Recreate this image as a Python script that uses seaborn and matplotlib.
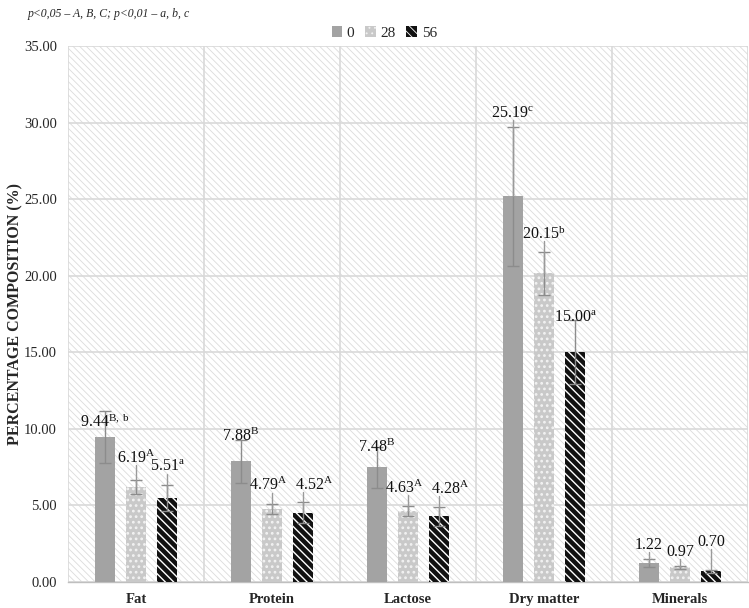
import matplotlib
matplotlib.use("Agg")
import matplotlib.pyplot as plt
import seaborn as sns
import pandas as pd
import numpy as np
from matplotlib.patches import Rectangle

# ---------------- data ----------------
components = ["Fat", "Protein", "Lactose", "Dry matter", "Minerals"]
days = ["0", "28", "56"]
values_0 = [9.44, 7.88, 7.48, 25.19, 1.22]
values_28 = [6.19, 4.79, 4.63, 20.15, 0.97]
values_56 = [5.51, 4.52, 4.28, 15.00, 0.70]
sd_0 = [1.70, 1.40, 1.35, 4.55, 0.25]
sd_28 = [0.45, 0.33, 0.33, 1.40, 0.10]
sd_56 = [0.85, 0.70, 0.62, 2.10, 0.08]
sup_0 = ["B, b", "B", "B", "c", ""]
sup_28 = ["A", "A", "A", "b", ""]
sup_56 = ["a", "A", "A", "a", ""]
yticks = [0, 5, 10, 15, 20, 25, 30, 35]

# label placement (label centre above the bar top in data units, and x shift)
label_off_0 = [1.0, 1.6, 1.3, 5.4, 1.2]
label_off_28 = [1.9, 1.5, 1.5, 2.55, 1.0]
label_off_56 = [2.0, 1.8, 1.8, 2.25, 1.9]
label_dx_0 = [0.0, 0.0, 0.0, 0.0, 0.0]
label_dx_28 = [0.0, -0.03, -0.03, 0.0, 0.0]
label_dx_56 = [0.0, 0.08, 0.08, 0.0, 0.0]

values = [values_0, values_28, values_56]
sds = [sd_0, sd_28, sd_56]
sups = [sup_0, sup_28, sup_56]
offs = [label_off_0, label_off_28, label_off_56]
dxs = [label_dx_0, label_dx_28, label_dx_56]

df = pd.DataFrame({
    "component": components * 3,
    "day": [d for d in days for _ in components],
    "value": values_0 + values_28 + values_56,
})

# ---------------- style ----------------
sns.set_theme(style="white")
plt.rcParams["font.family"] = ["Liberation Serif", "DejaVu Serif"]
plt.rcParams["mathtext.fontset"] = "custom"
plt.rcParams["mathtext.rm"] = "Liberation Serif"
plt.rcParams["mathtext.it"] = "Liberation Serif:italic"
plt.rcParams["mathtext.bf"] = "Liberation Serif:bold"

fig = plt.figure(figsize=(7.49, 6.08), dpi=100)
ax = fig.add_axes([68 / 749, 1 - 582 / 608, 680 / 749, 536 / 608])

palette = {"0": "#a3a3a3", "28": "#c9c9c9", "56": "#111111"}
sns.barplot(data=df, x="component", y="value", hue="day", order=components,
            hue_order=days, palette=palette, width=0.69, gap=0.36,
            errorbar=None, saturation=1, ax=ax, zorder=3)
bar_containers = list(ax.containers)

# background hatch
plt.rcParams["hatch.linewidth"] = 0.6
bg = Rectangle((0, 0), 1, 1, transform=ax.transAxes, facecolor="white",
               edgecolor="#dcdcdc", hatch="\\\\\\\\\\", lw=0, zorder=0.1)
ax.add_patch(bg)

# bar styles
for i, cont in enumerate(bar_containers):
    for p in cont.patches:
        p.set_linewidth(0)
        if i == 1:
            p.set_hatch("...")
            p.set_edgecolor("#f2f2f2")
            try:
                p.set_hatch_linewidth(1.2)
            except Exception:
                pass
        elif i == 2:
            p.set_hatch("\\\\\\\\")
            p.set_edgecolor("white")
            try:
                p.set_hatch_linewidth(1.0)
            except Exception:
                pass

# error bars, labels, leader lines
for i, cont in enumerate(bar_containers):
    for j, p in enumerate(cont.patches):
        xc = p.get_x() + p.get_width() / 2
        v = values[i][j]
        e = sds[i][j]
        ax.errorbar(xc, v, yerr=e, fmt="none", ecolor="#8c8c8c",
                    elinewidth=1.0, capsize=4, capthick=1.0, zorder=4)
        ly = v + offs[i][j]
        lb = ly - 0.45
        if lb > v + e:
            ax.plot([xc, xc], [v, lb], color="#9a9a9a", lw=1.0, zorder=4)
        s = sups[i][j]
        txt = f"{v:.2f}" + (r"$^{\mathrm{" + s.replace(" ", r"\ ") + "}}$" if s else "")
        ax.text(xc + dxs[i][j], ly, txt, ha="center", va="center",
                fontsize=11.5, color="#111111", zorder=5)

# axes
ax.set_xlim(-0.5, 4.5)
ax.set_ylim(0, 35)
ax.set_yticks(yticks)
ax.set_yticklabels([f"{t:.2f}" for t in yticks], fontsize=10.5)
ax.set_xticks(range(len(components)))
ax.set_xticklabels(components, fontsize=10.5, fontweight="bold")
ax.set_xticks(np.arange(-0.5, 4.6, 1), minor=True)
ax.tick_params(axis="x", which="major", length=0, pad=8)
ax.tick_params(axis="x", which="minor", length=5, color="#bfbfbf", width=1)
ax.tick_params(axis="y", length=0, pad=8)
ax.set_xlabel("")
ax.set_ylabel("PERCENTAGE COMPOSITION (%)", fontsize=11.5, fontweight="bold")
ax.yaxis.set_label_coords(-0.065, 0.5)
ax.grid(True, axis="y", color="#d9d9d9", lw=1.2, zorder=1)
ax.grid(True, axis="x", which="minor", color="#d9d9d9", lw=1.2, zorder=1)
ax.set_axisbelow(True)
for sp in ["top", "right", "left"]:
    ax.spines[sp].set_visible(False)
ax.spines["bottom"].set_color("#bfbfbf")
ax.spines["bottom"].set_linewidth(1.0)

# legend
leg = ax.get_legend()
if leg is not None:
    leg.remove()
ax.legend(handles=bar_containers, labels=days, loc="lower center",
          bbox_to_anchor=(0.465, 1.0), ncol=3, frameon=False, fontsize=11,
          handlelength=0.7, handleheight=0.7, handletextpad=0.3,
          columnspacing=0.7, borderaxespad=0.0)

fig.text(28 / 749, 1 - 14 / 608, "p<0,05 – A, B, C; p<0,01 – a, b, c",
         fontsize=8.5, style="italic", ha="left", va="center")

fig.savefig("out.png", dpi=100)
